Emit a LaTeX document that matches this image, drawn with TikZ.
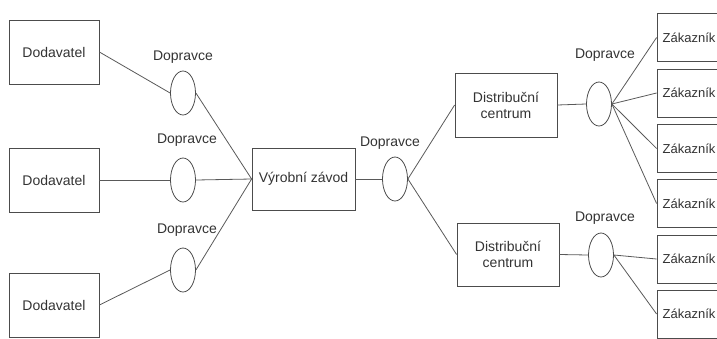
\documentclass[tikz,border=0pt]{standalone}
\usepackage{fontspec}
\setmainfont{Liberation Sans}
\usetikzlibrary{shapes.geometric}

\begin{document}
\begin{tikzpicture}[x=1pt,y=-1pt,
  box/.style={draw=black!70, line width=0.8pt, text=black!80, align=center,
              inner sep=0pt, font=\fontsize{14}{16}\selectfont},
  carrier/.style={draw=black!70, line width=0.8pt, ellipse, inner sep=0pt,
              minimum width=25pt, minimum height=44pt},
  lbl/.style={text=black!80, inner sep=0pt, font=\fontsize{14}{16}\selectfont},
  link/.style={draw=black!65, line width=0.8pt}]

\useasboundingbox (0,0) rectangle (717,338);
\clip (0,0) rectangle (717,338);

% dodavatele
\node [box, minimum width=90pt, minimum height=64pt] (sup1) at (54,52) {Dodavatel};
\node [box, minimum width=90pt, minimum height=64pt] (sup2) at (54,180) {Dodavatel};
\node [box, minimum width=90pt, minimum height=64pt] (sup3) at (54,305) {Dodavatel};

% dopravci k zavodu
\node [carrier] (car1) at (183,93) {};
\node [lbl] (lab1) at (183,57) {Dopravce};
\node [carrier] (car2) at (183,180) {};
\node [lbl] (lab2) at (187,140) {Dopravce};
\node [carrier] (car3) at (183,270) {};
\node [lbl] (lab3) at (187,230) {Dopravce};

% zavod
\node [box, minimum width=103pt, minimum height=62pt] (plant) at (303.5,179) {Výrobní závod};

\node [carrier] (car4) at (395,179) {};
\node [lbl] (lab4) at (390,143) {Dopravce};

% distribucni centra
\node [box, minimum width=102pt, minimum height=64pt] (dc1) at (506,105) {Distribuční\\centrum};
\node [box, minimum width=102pt, minimum height=63pt] (dc2) at (508,254.5) {Distribuční\\centrum};

\node [carrier] (car5) at (599,104) {};
\node [lbl] (lab5) at (605,55) {Dopravce};
\node [carrier] (car6) at (601,255) {};
\node [lbl] (lab6) at (605,218) {Dopravce};

% zakaznici (box runs past the right edge)
\foreach \y [count=\i] in {37.5,93,148.5,203.5,259,314}
  \node [box, minimum width=64pt, minimum height=48pt,
         font=\fontsize{13}{15}\selectfont] (cus\i) at (689,\y) {Zákazník};

% spojnice
\draw [link] (sup1.east) -- (car1.west);
\draw [link] (sup2.east) -- (car2.west);
\draw [link] (sup3.east) -- (car3.west);
\draw [link] (car1.east) -- (plant.west);
\draw [link] (car2.east) -- (plant.west);
\draw [link] (car3.east) -- (plant.west);
\draw [link] (plant.east) -- (car4.west);
\draw [link] (car4.east) -- (dc1.west);
\draw [link] (car4.east) -- (dc2.west);
\draw [link] (dc1.east) -- (car5.west);
\draw [link] (dc2.east) -- (car6.west);
\foreach \i in {1,...,4}
  \draw [link] (car5.east) -- (cus\i.west);
\draw [link] (car6.east) -- (cus5.west);
\draw [link] (car6.east) -- (cus6.west);

\end{tikzpicture}
\end{document}
